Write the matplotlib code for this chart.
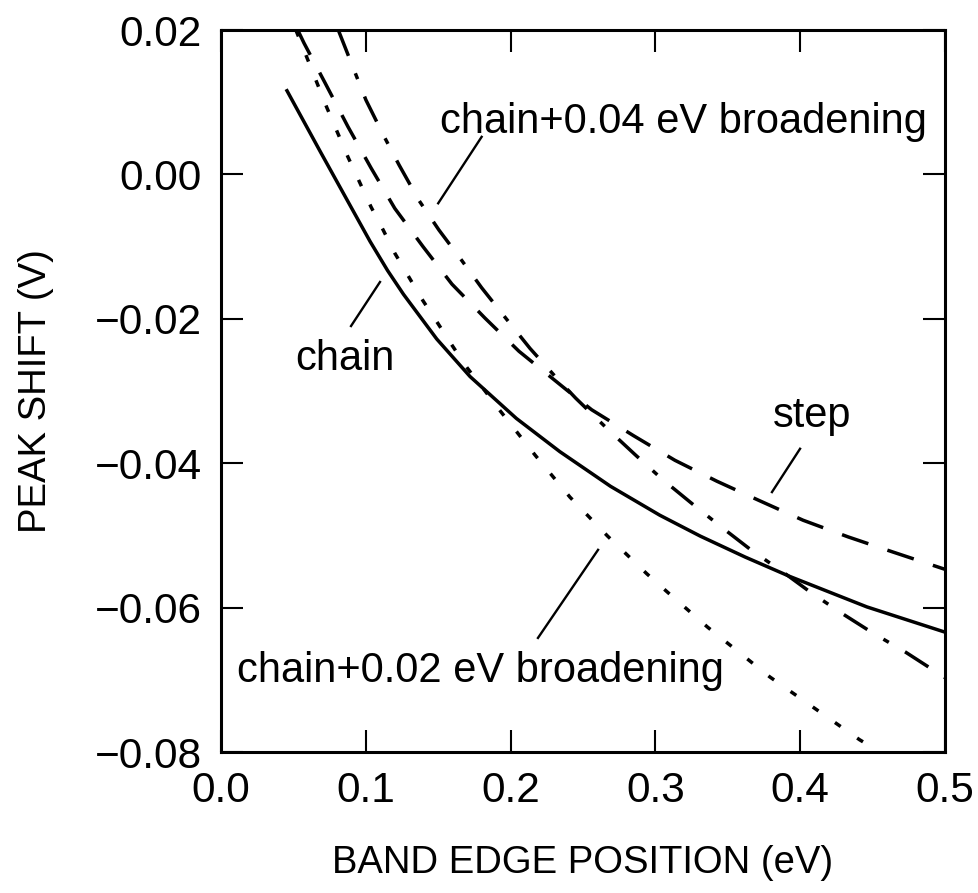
import matplotlib
matplotlib.use('Agg')
import matplotlib.pyplot as plt
from matplotlib import font_manager

# values
chain_x = [0.045, 0.069, 0.090, 0.103, 0.115, 0.126, 0.149, 0.172, 0.204, 0.234,
           0.269, 0.303, 0.331, 0.362, 0.393, 0.446, 0.5]
chain_y = [0.0118, 0.0030, -0.0046, -0.0093, -0.0133, -0.0166, -0.0228, -0.0280, -0.0338, -0.0384,
           -0.0432, -0.0472, -0.0501, -0.0530, -0.0557, -0.0599, -0.0634]

step_x = [0.053, 0.0573, 0.0718, 0.0877, 0.1036, 0.120, 0.1395, 0.1595, 0.1823, 0.2058,
          0.239, 0.256, 0.285, 0.3135, 0.3425, 0.372, 0.402, 0.433, 0.464, 0.5]
step_y = [0.0200, 0.0182, 0.0127, 0.0066, 0.0009, -0.0047, -0.0100, -0.0152, -0.0199, -0.0245,
          -0.0299, -0.0326, -0.0362, -0.0396, -0.0425, -0.0452, -0.0479, -0.0502, -0.0523, -0.0547]

b02_x = [0.0517, 0.0587, 0.073, 0.0877, 0.1036, 0.112, 0.120, 0.130, 0.1395, 0.150,
         0.160, 0.170, 0.182, 0.193, 0.217, 0.241, 0.267, 0.294, 0.308, 0.336,
         0.379, 0.441, 0.455]
b02_y = [0.0200, 0.0165, 0.0093, 0.0024, -0.0045, -0.0077, -0.0109, -0.0143, -0.0175, -0.0207,
         -0.0238, -0.0268, -0.0299, -0.0328, -0.0389, -0.0447, -0.0501, -0.0553, -0.0578, -0.0627,
         -0.0696, -0.0783, -0.0800]

b04_x = [0.081, 0.091, 0.1001, 0.112, 0.123, 0.1367, 0.1505, 0.1662, 0.180, 0.197,
         0.2134, 0.2313, 0.245, 0.2666, 0.2859, 0.3046, 0.3253, 0.3453, 0.3653, 0.391,
         0.408, 0.4296, 0.450, 0.473, 0.5]
b04_y = [0.0200, 0.0149, 0.0103, 0.0055, 0.0013, -0.0036, -0.0077, -0.0119, -0.0157, -0.0200,
         -0.0241, -0.0281, -0.0310, -0.0352, -0.0388, -0.0422, -0.0456, -0.0488, -0.0519, -0.0555,
         -0.0580, -0.0609, -0.0635, -0.0662, -0.0697]

# labels and their leader lines
labels = ['chain+0.04 eV broadening', 'chain', 'step', 'chain+0.02 eV broadening']
label_x = [0.1512, 0.0511, 0.3812, 0.011]
label_y = [0.0057, -0.0271, -0.0350, -0.0703]
leader_x = [(0.180, 0.150), (0.1098, 0.0898), (0.3999, 0.3805), (0.2604, 0.2189)]
leader_y = [(0.0052, -0.0040), (-0.0149, -0.0210), (-0.0380, -0.0440), (-0.0520, -0.0642)]

xticks = [0.0, 0.1, 0.2, 0.3, 0.4, 0.5]
xticklabels = ['0.0', '0.1', '0.2', '0.3', '0.4', '0.5']
yticks = [-0.08, -0.06, -0.04, -0.02, 0.0, 0.02]
yticklabels = ['\u22120.08', '\u22120.06', '\u22120.04', '\u22120.02', '0.00', '0.02']

names = {f.name for f in font_manager.fontManager.ttflist}
if 'Liberation Sans Narrow' in names:
    txt_family, txt_size, lab_size = 'Liberation Sans Narrow', 34, 32
else:
    txt_family, txt_size, lab_size = 'Liberation Sans', 30, 27.5

plt.rcParams['font.family'] = ['Liberation Sans', 'DejaVu Sans']
plt.rcParams['lines.scale_dashes'] = False

fig = plt.figure(figsize=(9.79, 8.93), dpi=100)
ax = fig.add_axes([221 / 979, 141 / 893, 724 / 979, 722 / 893])

lw = 2.5
ax.plot(chain_x, chain_y, color='black', lw=lw, solid_capstyle='butt', solid_joinstyle='round')
ax.plot(step_x, step_y, color='black', lw=lw, dashes=(20, 14.5), dash_capstyle='butt')
ax.plot(b02_x, b02_y, color='black', lw=lw, dashes=(5, 14.5), dash_capstyle='butt')
ax.plot(b04_x, b04_y, color='black', lw=lw, dashes=(20, 13.5, 4.5, 13.5), dash_capstyle='butt')

for lx, ly in zip(leader_x, leader_y):
    ax.plot(lx, ly, color='black', lw=1.7)

for s, tx, ty in zip(labels, label_x, label_y):
    ax.text(tx, ty, s, ha='left', va='baseline', family=txt_family, fontsize=txt_size)

ax.set_xlim(0, 0.5)
ax.set_ylim(-0.08, 0.02)
ax.set_xticks(xticks)
ax.set_xticklabels(xticklabels)
ax.set_yticks(yticks)
ax.set_yticklabels(yticklabels)
ax.tick_params(direction='in', length=16, width=1.5, top=True, right=True,
               labelsize=30.5, pad=14)
for sp in ax.spines.values():
    sp.set_linewidth(2.2)

ax.set_xlabel('BAND EDGE POSITION (eV)', family=txt_family, fontsize=lab_size, labelpad=24)
ax.set_ylabel('PEAK SHIFT (V)', family=txt_family, fontsize=lab_size, labelpad=29)

fig.savefig('out.png', dpi=100)
